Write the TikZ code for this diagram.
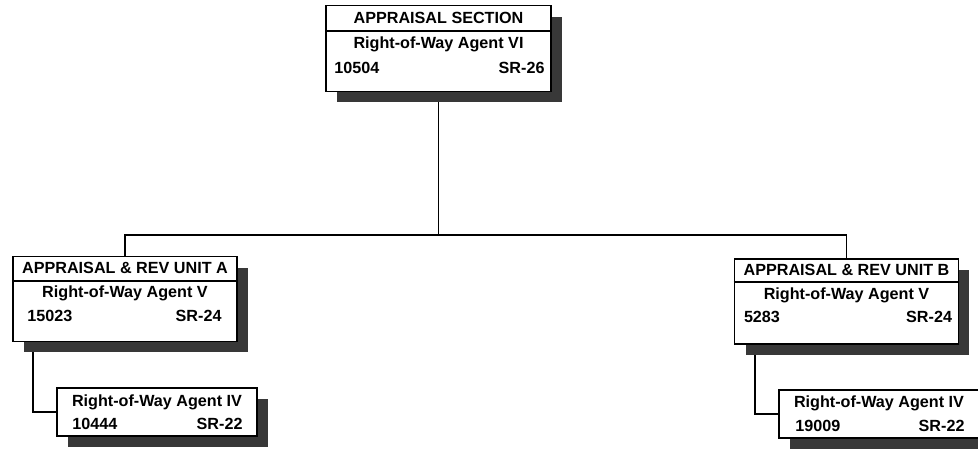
\documentclass[tikz,border=0pt]{standalone}
\usepackage{fontspec}
\setmainfont{Liberation Sans}
\usetikzlibrary{shadows, calc}
\definecolor{shade}{HTML}{383838}
\pgfdeclarelayer{background}
\pgfsetlayers{background,main}
\tikzset{
  post/.style={draw, line width=1pt, fill=white, minimum width=4.48cm, minimum height=1.7cm, inner sep=0pt,
    drop shadow={shadow xshift=0.22cm, shadow yshift=-0.22cm, opacity=1, fill=shade}},
  subpost/.style={post, minimum width=4cm, minimum height=0.96cm},
  txt/.style={font=\fontsize{9.2}{11}\selectfont\bfseries, inner sep=0pt},
  link/.style={line width=1pt},
}
\begin{document}
\begin{tikzpicture}[x=0.02cm, y=-0.02cm]
  \useasboundingbox (0,0) rectangle (978,449);
  \clip (0,0) rectangle (978,449);
  % section head
  \node[post, minimum width=4.5cm, minimum height=1.72cm] (top) at (438.5,48.5) {};
  \draw[link] ($(top.north west)+(0,26)$) -- ($(top.north east)+(0,26)$);
  \node[txt] (topH) at ($(top.north)+(0,13)$) {APPRAISAL SECTION};
  \node[txt] (topT) at ($(top.north)+(0,40)$) {Right-of-Way Agent VI};
  \node[txt, anchor=west] (topN) at ($(top.north west)+(9,63)$) {10504};
  \node[txt, anchor=east] (topG) at ($(top.north east)+(-7,63)$) {SR-26};
  % unit A
  \node[post] (A) at (125,299) {};
  \draw[link] ($(A.north west)+(0,25)$) -- ($(A.north east)+(0,25)$);
  \node[txt] (AH) at ($(A.north)+(0,12.5)$) {APPRAISAL \& REV UNIT A};
  \node[txt] (AT) at ($(A.north)+(0,38)$) {Right-of-Way Agent V};
  \node[txt, anchor=west] (AN) at ($(A.north west)+(15,60)$) {15023};
  \node[txt, anchor=east] (AG) at ($(A.north east)+(-16,60)$) {SR-24};
  % unit B
  \node[post] (B) at (846.5,301.5) {};
  \draw[link] ($(B.north west)+(0,24)$) -- ($(B.north east)+(0,24)$);
  \node[txt] (BH) at ($(B.north)+(0,12)$) {APPRAISAL \& REV UNIT B};
  \node[txt] (BT) at ($(B.north)+(0,37)$) {Right-of-Way Agent V};
  \node[txt, anchor=west] (BN) at ($(B.north west)+(10,59)$) {5283};
  \node[txt, anchor=east] (BG) at ($(B.north east)+(-7,59)$) {SR-24};
  % agents IV
  \node[subpost] (subA) at (157,412) {};
  \node[txt] (subAT) at ($(subA.north)+(0,15)$) {Right-of-Way Agent IV};
  \node[txt, anchor=west] (subAN) at ($(subA.north west)+(16,37)$) {10444};
  \node[txt, anchor=east] (subAG) at ($(subA.north east)+(-15,37)$) {SR-22};
  \node[subpost] (subB) at (879,414) {};
  \node[txt] (subBT) at ($(subB.north)+(0,14)$) {Right-of-Way Agent IV};
  \node[txt, anchor=west] (subBN) at ($(subB.north west)+(17,37)$) {19009};
  \node[txt, anchor=east] (subBG) at ($(subB.north east)+(-15,37)$) {SR-22};
  % lines
  \coordinate (bar) at (438.5,235);
  \begin{pgfonlayer}{background}
    \draw[link] (top.south) -- (bar);
    \draw[link] (A.north) |- (bar) -| (B.north);
    \draw[link] ($(A.south west)+(21,0)$) |- (subA.west);
    \draw[link] ($(B.south west)+(21,0)$) |- (subB.west);
  \end{pgfonlayer}
\end{tikzpicture}
\end{document}
